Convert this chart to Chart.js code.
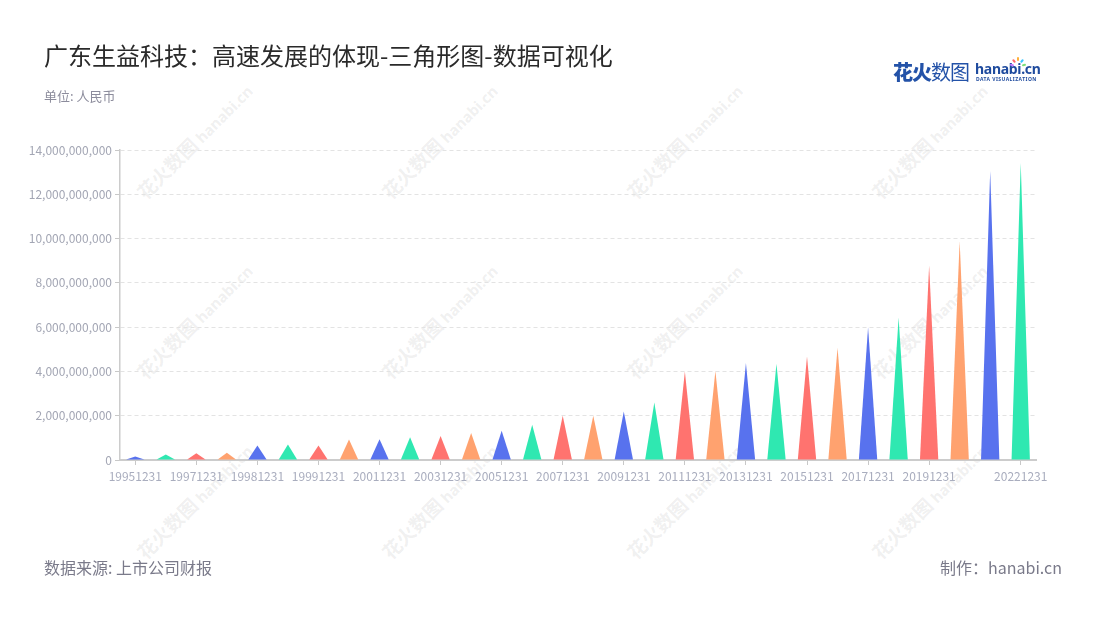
<!DOCTYPE html>
<html>
<head>
<meta charset="utf-8">
<script src="https://cdn.jsdelivr.net/npm/chart.js@4/dist/chart.umd.min.js"></script>
<style>
  html, body { margin: 0; padding: 0; background: #fff; }
  #wrap { position: relative; width: 1100px; height: 620px; overflow: hidden; font-family: "Noto Sans CJK SC", "Noto Sans", sans-serif; }
  #c { position: absolute; left: 0; top: 0; }
  .t { position: absolute; white-space: nowrap; line-height: 1; }
  #title { left: 44px; top: 43px; font-size: 24px; color: #2a2a2a; }
  #sub { left: 44px; top: 89px; font-size: 13px; color: #8c8c9c; }
  #src { left: 44px; top: 559px; font-size: 16px; color: #7a7a8a; }
  #made { right: 38px; top: 559px; font-size: 16px; color: #7a7a8a; }
  #logo1 { left: 893px; top: 62px; font-size: 20px; color: #2352a8; letter-spacing: -1px; }
  #logo1 .b1 { font-weight: 900; }
  #logo1 .b2 { font-weight: 400; }
  #logo2 { left: 975px; top: 62px; font-size: 14px; font-weight: 700; color: #1f4b9e; font-family: "Noto Sans", sans-serif; letter-spacing: -0.3px; }
  #logo3 { left: 976px; top: 77px; font-size: 5px; font-weight: 700; color: #1f4b9e; font-family: "Noto Sans", sans-serif; letter-spacing: 0.45px; }
  .spark { position: absolute; width: 2px; height: 4px; border-radius: 1px; }
  .wm { position: absolute; white-space: nowrap; transform: rotate(-45deg); transform-origin: left center; color: rgba(150,150,150,0.15); font-weight: 700; line-height: 1; }
  .wm .a { font-size: 19px; }
  .wm .b { font-size: 15px; font-family: "Noto Sans", sans-serif; margin-left: 4px; }
</style>
</head>
<body>
<div id="wrap">
  <canvas id="c" width="1100" height="620"></canvas>
  <div class="t" id="title">广东生益科技：高速发展的体现-三角形图-数据可视化</div>
  <div class="t" id="sub">单位: 人民币</div>
  <div class="t" id="src">数据来源: 上市公司财报</div>
  <div class="t" id="made">制作：hanabi.cn</div>
  <div class="t" id="logo1"><span class="b1">花火</span><span class="b2">数图</span></div>
  <div class="t" id="logo2">hanabi.cn</div>
  <div class="t" id="logo3">DATA VISUALIZATION</div>
  <div class="spark" style="left:1013px;top:59px;background:#ff6b6b;transform:rotate(-40deg)"></div>
  <div class="spark" style="left:1017px;top:57px;background:#ffb13b"></div>
  <div class="spark" style="left:1021px;top:59px;background:#3bc7ff;transform:rotate(40deg)"></div>
  <div class="spark" style="left:1023px;top:63px;background:#7be07b;transform:rotate(80deg)"></div>
  <div class="spark" style="left:1011px;top:63px;background:#c77bff;transform:rotate(-80deg)"></div>
</div>
<script>
// ---- data ----
const categories = ['19951231','19961231','19971231','19980630','19981231','19990630','19991231','20001231','20011231','20021231',
  '20031231','20041231','20051231','20061231','20071231','20081231','20091231','20101231','20111231','20121231',
  '20131231','20141231','20151231','20161231','20171231','20181231','20191231','20201231','20211231','20221231'];
const revenue = [160000000, 250000000, 310000000, 330000000, 660000000, 700000000, 660000000, 930000000, 940000000, 1030000000,
  1080000000, 1220000000, 1320000000, 1590000000, 2000000000, 2000000000, 2190000000, 2600000000, 4000000000, 4020000000,
  4380000000, 4350000000, 4680000000, 5070000000, 5990000000, 6420000000, 8780000000, 9880000000, 13060000000, 13420000000];
const shownLabels = ['19951231','19971231','19981231','19991231','20011231','20031231','20051231','20071231','20091231',
  '20111231','20131231','20151231','20171231','20191231','20221231'];
const yTicks = [0, 2000000000, 4000000000, 6000000000, 8000000000, 10000000000, 12000000000, 14000000000];

// ---- styles ----
const palette = ['#5872ee', '#2fe8b1', '#ff736f', '#ffa26f'];
const FONT = '"Noto Sans CJK SC", "Noto Sans", sans-serif';

// watermarks
const wmPos = [[140,185],[385,185],[630,185],[875,185],[140,365],[385,365],[630,365],[875,365],[140,545],[385,545],[630,545],[875,545]];
const wrap = document.getElementById('wrap');
wmPos.forEach(p => {
  const d = document.createElement('div');
  d.className = 'wm';
  d.style.left = p[0] + 'px';
  d.style.top = p[1] + 'px';
  d.innerHTML = '<span class="a">花火数图</span><span class="b">hanabi.cn</span>';
  wrap.insertBefore(d, wrap.firstChild.nextSibling);
});

const triPlugin = {
  id: 'triangles',
  beforeDatasetDraw(chart, args) {
    const ctx = chart.ctx;
    ctx.save();
    args.meta.data.forEach(el => {
      const p = el.getProps(['x', 'y', 'base', 'width'], true);
      ctx.beginPath();
      ctx.moveTo(p.x - p.width / 2, p.base);
      ctx.lineTo(p.x, p.y);
      ctx.lineTo(p.x + p.width / 2, p.base);
      ctx.closePath();
      ctx.fillStyle = el.options.backgroundColor;
      ctx.fill();
    });
    ctx.restore();
    return false;
  }
};

new Chart(document.getElementById('c'), {
  type: 'bar',
  data: {
    labels: categories,
    datasets: [{
      data: revenue,
      backgroundColor: revenue.map((_, i) => palette[i % palette.length]),
      barPercentage: 1,
      categoryPercentage: 0.6
    }]
  },
  options: {
    responsive: false,
    animation: false,
    layout: { padding: { left: 0, top: 150, right: 64, bottom: 120 } },
    plugins: { legend: { display: false }, tooltip: { enabled: false } },
    scales: {
      x: {
        afterFit: s => { s.height = 40; },
        grid: {
          drawOnChartArea: false,
          offset: false,
          tickLength: 5,
          tickColor: c => (c.tick && shownLabels.includes(categories[c.index])) ? '#c8c8c8' : 'rgba(0,0,0,0)'
        },
        border: { color: '#cccccc', width: 2 },
        ticks: {
          autoSkip: false,
          maxRotation: 0,
          padding: 4,
          color: '#a9adbe',
          font: { family: FONT, size: 12 },
          callback: function (v, i) { return shownLabels.includes(categories[i]) ? categories[i] : ''; }
        }
      },
      y: {
        min: 0,
        max: 14000000000,
        afterFit: s => { s.width = 120; },
        afterBuildTicks: s => { s.ticks = yTicks.map(v => ({ value: v })); },
        grid: { color: '#e3e3e3', tickColor: '#c8c8c8', tickLength: 5 },
        border: { color: '#cccccc', width: 1.5, dash: [4, 3] },
        ticks: {
          padding: 3,
          color: '#a3a6b4',
          font: { family: FONT, size: 12 },
          callback: v => Number(v).toLocaleString('en-US')
        }
      }
    }
  },
  plugins: [triPlugin]
});
</script>
</body>
</html>
